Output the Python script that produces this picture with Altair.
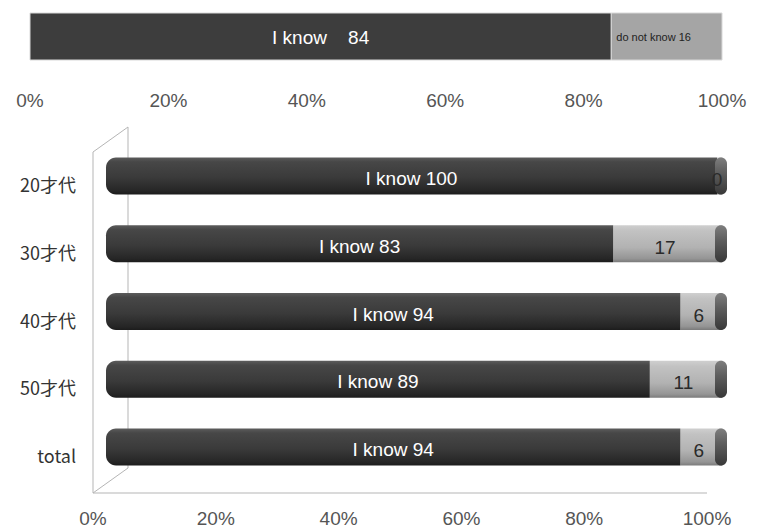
import altair as alt
import pandas as pd

# ---------------- data ----------------
top_names = ["I know", "do not know"]
top_values = [84, 16]

groups = ["20才代", "30才代", "40才代", "50才代", "total"]
know = [100, 83, 94, 89, 94]
not_know = [0, 17, 6, 11, 6]

tick_values = [0, 20, 40, 60, 80, 100]
tick_labels = ["0%", "20%", "40%", "60%", "80%", "100%"]

FONT = "Liberation Sans"
CJK = "Noto Sans CJK JP"
NBSP = "\u00a0"

# ---------------- tables ----------------
top_df = pd.DataFrame({
    "name": top_names,
    "start": [0, top_values[0]],
    "end": [top_values[0], top_values[0] + top_values[1]],
})
top_df["mid"] = (top_df["start"] + top_df["end"]) / 2
top_df["label"] = [f"{top_names[0]}{NBSP * 4}{top_values[0]}", f"{top_names[1]} {top_values[1]}"]

bars = pd.DataFrame({"group": groups, "know": know, "not_know": not_know})
bars["full"] = bars["know"] + bars["not_know"]
bars["zero"] = 0
bars["know_mid"] = bars["know"] / 2
bars["nk_mid"] = bars["know"] + bars["not_know"] / 2
bars["know_label"] = [f"I know {v}" for v in know]
bars["nk_label"] = [str(v) for v in not_know]

ticks = pd.DataFrame({"v": tick_values, "label": tick_labels})

# ---------------- scales ----------------
top_x = alt.Scale(domain=[0, 100], range=[30, 722])
bar_x = alt.Scale(domain=[0, 100], range=[106, 717])
axis_x = alt.Scale(domain=[0, 100], range=[93, 707])
band_y = alt.Scale(domain=groups, range=[142, 481], paddingInner=0.454, paddingOuter=0.227)


def grad(stops):
    return alt.Gradient(
        gradient="linear", x1=0, x2=0, y1=0, y2=1,
        stops=[alt.GradientStop(color=c, offset=o) for o, c in stops],
    )


dark_fill = grad([(0, "#5c5c5c"), (0.12, "#474747"), (0.55, "#3a3a3a"), (0.9, "#262626"), (1, "#1c1c1c")])
grey_fill = grad([(0, "#cfcfcf"), (0.15, "#c2c2c2"), (0.6, "#b2b2b2"), (0.9, "#959595"), (1, "#7a7a7a")])
cap_fill = grad([(0, "#7e7e7e"), (0.4, "#5e5e5e"), (1, "#383838")])

# ---------------- top bar ----------------
top_color = alt.Color("name:N", scale=alt.Scale(domain=top_names, range=["#3d3d3d", "#a5a5a5"]), legend=None)
top_bar = alt.Chart(top_df).mark_bar(stroke="#d8d8d8", strokeWidth=1).encode(
    x=alt.X("start:Q", scale=top_x, axis=None),
    x2="end:Q",
    y=alt.value(13),
    y2=alt.value(60),
    color=top_color,
)
top_text_know = alt.Chart(top_df[top_df["name"] == "I know"]).mark_text(
    font=FONT, fontSize=19, color="white", baseline="middle"
).encode(
    x=alt.X("mid:Q", scale=top_x, axis=None),
    y=alt.value(38),
    text="label:N",
)
top_text_nk = alt.Chart(top_df[top_df["name"] == "do not know"]).mark_text(
    font=FONT, fontSize=11, color="#222222", baseline="middle", dx=-13
).encode(
    x=alt.X("mid:Q", scale=top_x, axis=None),
    y=alt.value(38),
    text="label:N",
)
top_ticks = alt.Chart(ticks).mark_text(font=FONT, fontSize=19, color="#555555", baseline="middle").encode(
    x=alt.X("v:Q", scale=top_x, axis=None),
    y=alt.value(101),
    text="label:N",
)

# ---------------- 3D frame ----------------
line_color = "#b5b5b5"
frame_front = alt.Chart().mark_rule(color=line_color, strokeWidth=1).encode(
    x=alt.value(93), y=alt.value(152), y2=alt.value(493)
)
frame_back = alt.Chart().mark_rule(color=line_color, strokeWidth=1).encode(
    x=alt.value(128), y=alt.value(127), y2=alt.value(468)
)
frame_top_diag = alt.Chart().mark_rule(color=line_color, strokeWidth=1).encode(
    x=alt.value(93), y=alt.value(152), x2=alt.value(128), y2=alt.value(127)
)
frame_bot_diag = alt.Chart().mark_rule(color=line_color, strokeWidth=1).encode(
    x=alt.value(93), y=alt.value(493), x2=alt.value(128), y2=alt.value(468)
)
floor = alt.Chart(ticks).mark_rule(color=line_color, strokeWidth=1).encode(
    x=alt.X("min(v):Q", scale=axis_x, axis=None),
    x2="max(v):Q",
    y=alt.value(493),
)

# ---------------- bottom bars ----------------
Y = alt.Y("group:N", scale=band_y, axis=None, sort=groups)

grey_bar = alt.Chart(bars).mark_bar(fill=grey_fill, x2Offset=5).encode(
    x=alt.X("know:Q", scale=bar_x, axis=None), x2="full:Q", y=Y
)
dark_bar = alt.Chart(bars).mark_bar(fill=dark_fill, cornerRadiusTopLeft=10, cornerRadiusBottomLeft=10).encode(
    x=alt.X("zero:Q", scale=bar_x, axis=None), x2="know:Q", y=Y
)
cap = alt.Chart(bars).mark_bar(fill=cap_fill, cornerRadius=6, xOffset=-2, x2Offset=10).encode(
    x=alt.X("full:Q", scale=bar_x, axis=None), x2="full:Q", y=Y
)
know_text = alt.Chart(bars).mark_text(font=FONT, fontSize=19, color="white", baseline="middle", dy=3).encode(
    x=alt.X("know_mid:Q", scale=bar_x, axis=None), y=Y, text="know_label:N"
)
nk_text = alt.Chart(bars).mark_text(font=FONT, fontSize=19, color="#2a2a2a", baseline="middle", dy=4).encode(
    x=alt.X("nk_mid:Q", scale=bar_x, axis=None), y=Y, text="nk_label:N"
)
cat_text = alt.Chart(bars).mark_text(font=CJK, fontSize=18, color="#333333", align="right", baseline="middle", dy=11).encode(
    x=alt.value(76), y=Y, text="group:N"
)
bottom_ticks = alt.Chart(ticks).mark_text(font=FONT, fontSize=19, color="#555555", baseline="middle").encode(
    x=alt.X("v:Q", scale=axis_x, axis=None),
    y=alt.value(519),
    text="label:N",
)

chart = alt.layer(
    top_bar, top_text_know, top_text_nk, top_ticks,
    frame_back, frame_top_diag, frame_bot_diag, frame_front, floor,
    grey_bar, dark_bar, cap, know_text, nk_text, cat_text, bottom_ticks,
).resolve_scale(
    x="independent", y="independent", color="independent"
).properties(
    width=759, height=531, padding=0,
    autosize=alt.AutoSizeParams(type="none"),
    background="white",
).configure_view(stroke=None)

chart.save("out.html", embed_options={"renderer": "svg", "actions": False})
